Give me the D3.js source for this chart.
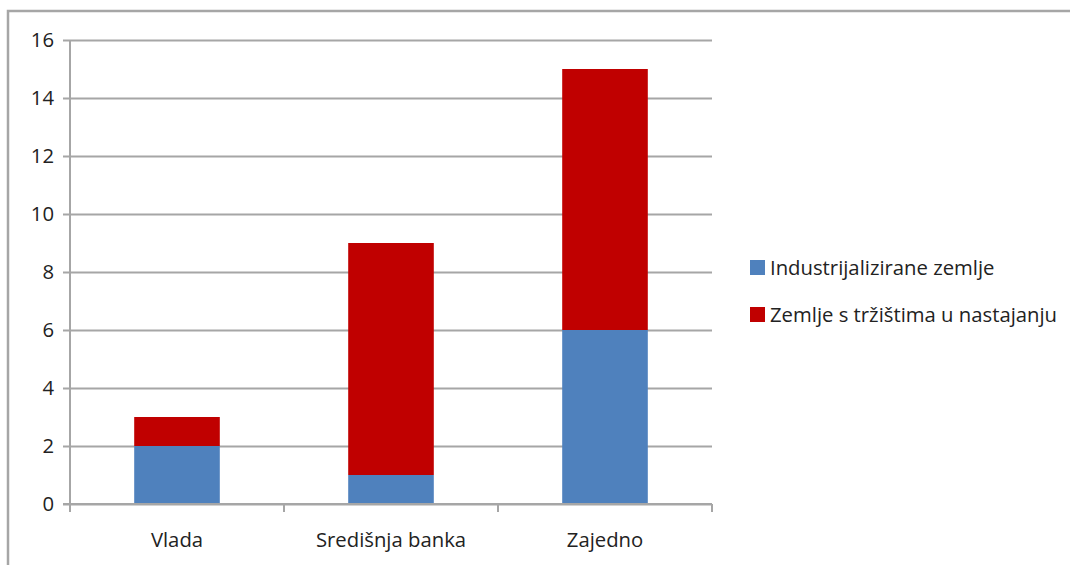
<!DOCTYPE html>
<html>
<head>
<meta charset="utf-8">
<script src="https://cdn.jsdelivr.net/npm/d3@7"></script>
<style>
	body { margin: 0; background: #fff; }
	text { font-family: "Open Sans", sans-serif; fill: #222; }
</style>
</head>
<body>
<svg id="chart" width="1070" height="565"></svg>
<script>
//chart data
var categories = ['Vlada', 'Središnja banka', 'Zajedno'];
var seriesNames = ['Industrijalizirane zemlje', 'Zemlje s tržištima u nastajanju'];
var industrijalizirane = [2, 1, 6];
var nastajanje = [1, 8, 9];
var yTicks = [0, 2, 4, 6, 8, 10, 12, 14, 16];
var colors = ['#4f81bd', '#c00000'];

var svg = d3.select('#chart');
var gridColor = '#a6a6a6';
var fontSize = '20.3px';

//outer frame (only top & left visible)
svg.append('path')
	.attr('d', 'M8,565 V11 H1070')
	.attr('fill', 'none')
	.attr('stroke', gridColor)
	.attr('stroke-width', 2.5);

var margin = {left: 70, top: 40, right: 712, bottom: 504};

var x = d3.scaleBand()
	.domain(categories)
	.range([margin.left, margin.right])
	.paddingInner(0.6)
	.paddingOuter(0.3);

var y = d3.scaleLinear()
	.domain([0, 16])
	.range([margin.bottom, margin.top]);

//build stacked data
var rows = categories.map(function(c, i) {
	return {cat: c, a: industrijalizirane[i], b: nastajanje[i]};
});
var stacked = d3.stack().keys(['a', 'b'])(rows);

//grid lines + y axis ticks
var yAxis = d3.axisLeft(y)
	.tickValues(yTicks)
	.tickSize(-(margin.right - margin.left))
	.tickSizeOuter(0)
	.tickPadding(16)
	.tickFormat(d3.format('d'));

var gy = svg.append('g')
	.attr('transform', 'translate(' + margin.left + ',0)')
	.call(yAxis);
gy.select('.domain').remove();
gy.selectAll('.tick line')
	.attr('x1', -7)
	.attr('stroke', gridColor)
	.attr('stroke-width', 2);
gy.selectAll('.tick text')
	.style('font-size', fontSize)
	.attr('fill', '#222');

//y axis line
svg.append('line')
	.attr('x1', margin.left).attr('x2', margin.left)
	.attr('y1', margin.top).attr('y2', margin.bottom)
	.attr('stroke', gridColor)
	.attr('stroke-width', 2);

//bars
svg.append('g').selectAll('g')
	.data(stacked)
	.enter().append('g')
	.attr('fill', function(d, i) { return colors[i]; })
	.selectAll('rect')
	.data(function(d) { return d; })
	.enter().append('rect')
	.attr('x', function(d) { return x(d.data.cat); })
	.attr('width', x.bandwidth())
	.attr('y', function(d) { return y(d[1]); })
	.attr('height', function(d) { return y(d[0]) - y(d[1]); });

//x axis with boundary ticks
var boundaries = d3.range(categories.length + 1).map(function(i) {
	return margin.left + i * (margin.right - margin.left) / categories.length;
});
svg.append('line')
	.attr('x1', margin.left - 7).attr('x2', margin.right)
	.attr('y1', margin.bottom).attr('y2', margin.bottom)
	.attr('stroke', gridColor)
	.attr('stroke-width', 2);
svg.append('g').selectAll('line')
	.data(boundaries)
	.enter().append('line')
	.attr('x1', function(d) { return d; }).attr('x2', function(d) { return d; })
	.attr('y1', margin.bottom).attr('y2', margin.bottom + 8)
	.attr('stroke', gridColor)
	.attr('stroke-width', 2);

svg.append('g').selectAll('text')
	.data(categories)
	.enter().append('text')
	.attr('x', function(d) { return x(d) + x.bandwidth() / 2; })
	.attr('y', 547)
	.attr('text-anchor', 'middle')
	.style('font-size', fontSize)
	.text(function(d) { return d; });

//legend
var legend = svg.append('g').selectAll('g')
	.data(seriesNames)
	.enter().append('g')
	.attr('transform', function(d, i) { return 'translate(750,' + (260 + i * 47) + ')'; });
legend.append('rect')
	.attr('width', 15).attr('height', 15)
	.attr('fill', function(d, i) { return colors[i]; });
legend.append('text')
	.attr('x', 20)
	.attr('y', 15)
	.style('font-size', fontSize)
	.text(function(d) { return d; });
</script>
</body>
</html>
